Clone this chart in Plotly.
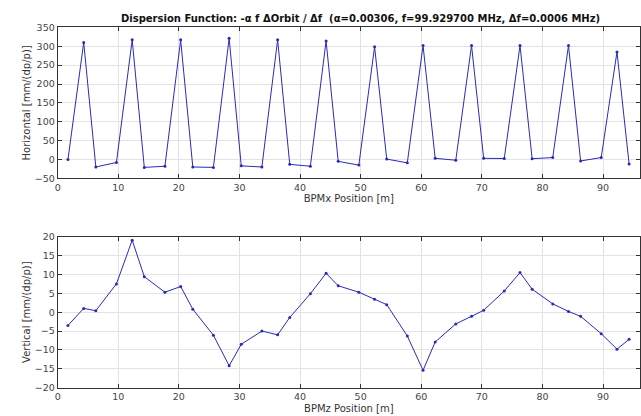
import plotly.graph_objects as go

# BPM positions [m]
bpmx_pos = [1.7, 4.3, 6.3, 9.7, 12.3, 14.3, 17.7, 20.3, 22.3, 25.7, 28.3, 30.3,
            33.7, 36.3, 38.3, 41.7, 44.3, 46.3, 49.7, 52.3, 54.3, 57.7, 60.3, 62.3,
            65.7, 68.3, 70.3, 73.7, 76.3, 78.3, 81.7, 84.3, 86.3, 89.7, 92.3, 94.3]
bpmz_pos = list(bpmx_pos)

horizontal = [0, 310, -20, -8, 317, -21, -18, 317, -20, -21, 321, -17,
              -20, 317, -13, -18, 314, -5, -15, 299, 1, -9, 302, 3,
              -2, 302, 3, 2.5, 302, 2, 5, 302, -4, 5, 285, -12]
vertical = [-3.5, 1.0, 0.4, 7.5, 19.1, 9.4, 5.3, 6.8, 0.8, -6.1, -14.2, -8.5,
            -5.0, -6.0, -1.4, 4.9, 10.3, 7.0, 5.3, 3.4, 2.0, -6.3, -15.4, -7.9,
            -3.1, -1.1, 0.5, 5.6, 10.5, 6.1, 2.2, 0.2, -1.1, -5.7, -9.8, -7.2]

title = ("Dispersion Function: -\u03b1 f \u0394Orbit / \u0394f  "
         "(\u03b1=0.00306, f=99.929700 MHz, \u0394f=0.0006 MHz)")

W, H = 641, 416
line_color = "#2a2ab8"
tick_font = dict(family="DejaVu Sans", size=9.5, color="#444444")
label_font = dict(family="DejaVu Sans", size=10, color="#333333")

fig = go.Figure()
fig.add_trace(go.Scatter(x=bpmx_pos, y=horizontal, mode="lines+markers",
                         line=dict(color=line_color, width=1),
                         marker=dict(size=3, color=line_color),
                         xaxis="x", yaxis="y", showlegend=False))
fig.add_trace(go.Scatter(x=bpmz_pos, y=vertical, mode="lines+markers",
                         line=dict(color=line_color, width=1),
                         marker=dict(size=3, color=line_color),
                         xaxis="x2", yaxis="y2", showlegend=False))

x_dom = [55 / W, 1.0]
axis_common = dict(showline=True, linecolor="#333333", linewidth=1, mirror="ticks",
                   ticks="inside", ticklen=4, tickcolor="#333333",
                   showgrid=True, gridcolor="#e3e3e3", gridwidth=1,
                   zeroline=False, tickfont=tick_font)

fig.update_layout(
    width=W, height=H,
    margin=dict(l=0, r=0, t=0, b=0),
    paper_bgcolor="white", plot_bgcolor="white",
    xaxis=dict(domain=x_dom, range=[0, 96.1], anchor="y", dtick=10,
               title=dict(text="BPMx Position [m]", standoff=2, font=label_font),
               **axis_common),
    yaxis=dict(domain=[1 - 177 / H, 1 - 22 / H], range=[-50, 350], anchor="x", dtick=50,
               title=dict(text="Horizontal [mm/(dp/p)]", standoff=2, font=label_font),
               **axis_common),
    xaxis2=dict(domain=x_dom, range=[0, 96.1], anchor="y2", dtick=10,
                title=dict(text="BPMz Position [m]", standoff=3, font=label_font),
                **axis_common),
    yaxis2=dict(domain=[1 - 392 / H, 1 - 237 / H], range=[-20, 20], anchor="x2", dtick=5,
                title=dict(text="Vertical [mm/(dp/p)]", standoff=2, font=label_font),
                **axis_common),
    annotations=[dict(text="<b>" + title + "</b>", x=360 / W, y=1 - 13 / H,
                      xref="paper", yref="paper", showarrow=False,
                      xanchor="center", yanchor="middle",
                      font=dict(family="DejaVu Sans", size=10, color="#111111"))],
)

fig.write_html("out.html")
